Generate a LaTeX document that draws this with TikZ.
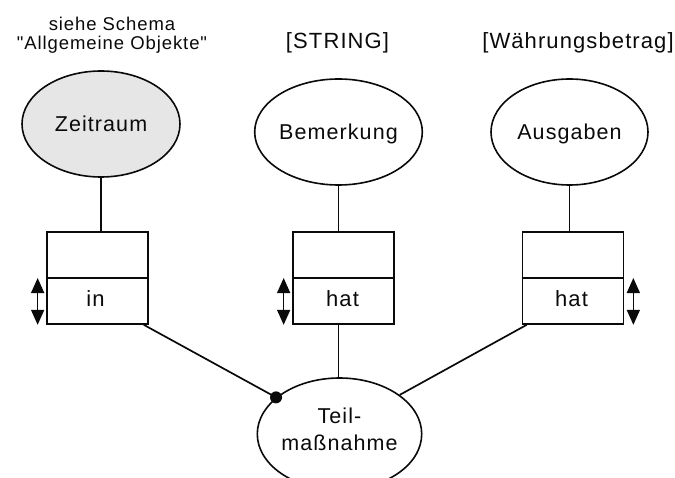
\documentclass[tikz,border=0pt]{standalone}
\usepackage{fontspec}
\setmainfont{Liberation Sans}[LetterSpace=5]
\newfontfamily\plainquotes{Liberation Sans}[LetterSpace=5,Ligatures=TeXOff]
\usetikzlibrary{arrows.meta,shapes.geometric}
\definecolor{entfill}{RGB}{230,230,230}
\definecolor{ink}{RGB}{10,10,10}
\begin{document}
\begin{tikzpicture}[x=1bp,y=-1bp,
  entity/.style={ellipse, draw=ink, line width=1.6bp, inner sep=0pt,
    minimum width=157bp, minimum height=106bp, text depth=0pt,
    font=\fontsize{21.5bp}{27bp}\selectfont, text=ink},
  relbox/.style={rectangle, draw=ink, line width=1.7bp, inner sep=0pt,
    minimum width=101bp, minimum height=92bp},
  divider/.style={draw=ink, line width=2.9bp},
  reltext/.style={anchor=base, inner sep=0pt, text=ink,
    font=\fontsize{22bp}{26bp}\selectfont},
  toplabel/.style={anchor=base, inner sep=0pt, text=ink,
    font=\fontsize{22bp}{26bp}\selectfont},
  smalllabel/.style={anchor=base, inner sep=0pt, text=ink,
    font=\fontsize{18.5bp}{22bp}\selectfont},
  conn/.style={draw=ink, line width=1.7bp},
  updown/.style={draw=ink, line width=1.6bp,
    {Triangle[length=15bp,width=13bp]}-{Triangle[length=15bp,width=13bp]}}
]
\useasboundingbox (0,0) rectangle (675,478);

% top labels
\node[smalllabel] (l1a) at (112,31) {siehe Schema};
\node[smalllabel] (l1b) at (112,50) {\plainquotes "Allgemeine Objekte"};
\node[toplabel] (l2) at (337.5,49) {[STRING]};
\node[toplabel] (l3) at (578,49) {[Währungsbetrag]};

% entities
\node[entity, fill=entfill, minimum width=158bp] (z) at (101,124) {Zeitraum};
\node[entity] (b) at (338.5,132) {Bemerkung};
\node[entity] (a) at (569.5,132) {Ausgaben};
\node[entity, minimum height=112bp, align=center, text depth=10.4bp] (t) at (339.5,434) {Teil-\\maßnahme};

% relationship boxes
\node[relbox] (r1) at (97.5,278) {};
\node[relbox] (r2) at (343.5,278) {};
\node[relbox] (r3) at (573,278) {};
\draw[divider] (r1.west) -- (r1.east);
\draw[divider] (r2.west) -- (r2.east);
\draw[divider] (r3.west) -- (r3.east);
\node[reltext] (r1t) at (95.5,306) {in};
\node[reltext] (r2t) at (342.5,306.5) {hat};
\node[reltext] (r3t) at (571.5,306.5) {hat};

% cardinality arrows
\draw[updown] ([xshift=-8.5bp]r1.west) -- ([xshift=-8.5bp]r1.south west);
\draw[updown] ([xshift=-8.5bp]r2.west) -- ([xshift=-8.5bp]r2.south west);
\draw[updown] ([xshift=9bp]r3.east) -- ([xshift=9bp]r3.south east);

% connectors
\draw[conn] (z.south) -- (z.south |- r1.north);
\draw[conn] (b.south) -- (b.south |- r2.north);
\draw[conn] (a.south) -- (a.south |- r3.north);
\draw[conn] ([xshift=-5bp]r1.south east) -- (t.150);
\draw[conn] (t.north -| b.south) -- (b.south |- r2.south);
\draw[conn] ([xshift=5bp]r3.south west) -- (t.33);
\fill[ink] (t.150) circle (6bp);
\end{tikzpicture}
\end{document}
